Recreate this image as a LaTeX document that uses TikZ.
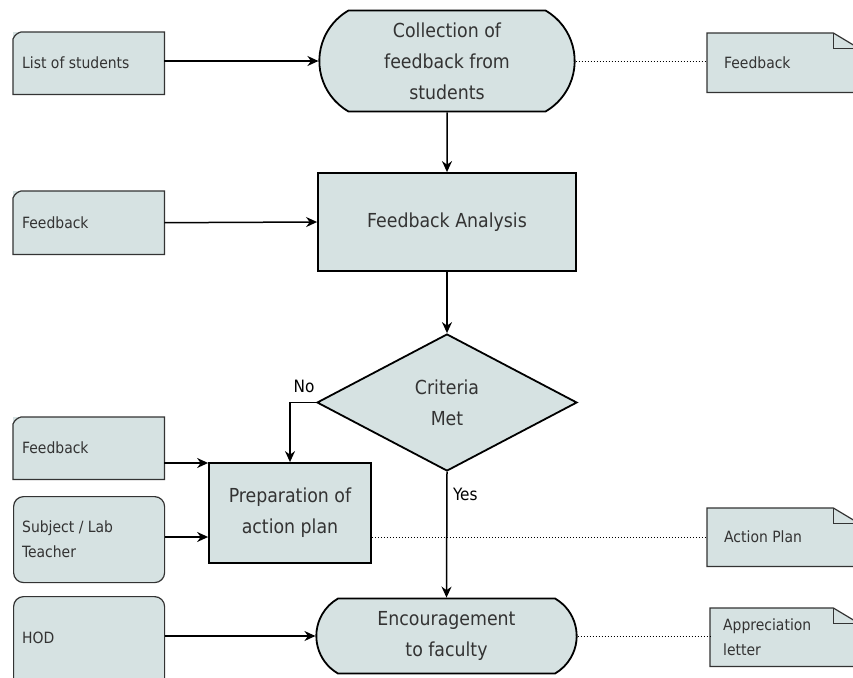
\documentclass[tikz,border=0pt]{standalone}
\usepackage{fontspec}
\setmainfont{DejaVu Sans Condensed}
\usetikzlibrary{shapes.geometric,shapes.misc,arrows.meta}
\definecolor{boxfill}{HTML}{D6E2E2}
\definecolor{txt}{HTML}{333333}
\tikzset{
  main/.style={draw=black, line width=1.8pt, fill=boxfill, text=txt, font=\fontsize{19.3}{31}\selectfont, align=center},
  proc/.style={main, rectangle},
  term/.style={main, rounded rectangle, rounded rectangle arc length=120},
  dec/.style={main, diamond},
  side/.style={fill=boxfill, draw=none, text=txt, font=\fontsize{15.5}{25}\selectfont, align=left, anchor=north west, inner sep=0pt},
  sideline/.style={draw=black!80, line width=1.2pt},
  flow/.style={line width=1.5pt, -{Stealth[length=11pt,width=10pt]}},
  link/.style={line width=1pt, dotted},
  lbl/.style={text=black, font=\fontsize{17}{20}\selectfont}
}
\begin{document}
\begin{tikzpicture}[x=1pt,y=-1pt]
\useasboundingbox (0,0) rectangle (853,677);
\clip (0,0) rectangle (853,677);
% main flow
\node[term, minimum width=262pt, minimum height=101pt] (coll) at (447,61) {Collection of\\feedback from\\students};
\node[proc, minimum width=258pt, minimum height=98pt] (anal) at (447,222) {Feedback Analysis};
\node[dec, minimum width=260pt, minimum height=137pt] (crit) at (447,402.5) {Criteria\\Met};
\node[proc, minimum width=162pt, minimum height=100pt] (prep) at (290,513) {Preparation of\\action plan};
\node[term, minimum width=267pt, minimum height=75pt] (enc) at (446.5,636) {Encouragement\\to faculty};
% left side inputs
\node[side, minimum width=151pt, minimum height=62pt] (lst) at (13,32) {};
\node[side, minimum width=151pt, minimum height=63pt] (fb1) at (13,191) {};
\node[side, minimum width=151pt, minimum height=62pt] (fb2) at (13,417) {};
\node[side, draw=black!80, line width=1.2pt, rounded corners=10pt, minimum width=151pt, minimum height=86pt] (subj) at (13,496) {};
\node[side, draw=black!80, line width=1.2pt, rounded corners=10pt, minimum width=151pt, minimum height=95pt] (hod) at (13,596) {};
\foreach \n in {lst,fb1,fb2}{
  \draw[sideline] ([yshift=-7pt]\n.north west) to[bend left=25] ([xshift=8pt]\n.north west) -- (\n.north east) -- (\n.south east) -- (\n.south west) -- cycle;
}
\node[side, anchor=west] (lstT) at ([xshift=9pt]lst.west) {List of students};
\node[side, anchor=west] (fb1T) at ([xshift=9pt]fb1.west) {Feedback};
\node[side, anchor=west] (fb2T) at ([xshift=9pt]fb2.west) {Feedback};
\node[side, anchor=west] (subjT) at ([xshift=9pt]subj.west) {Subject / Lab\\Teacher};
\node[side, anchor=west] (hodT) at ([xshift=9pt,yshift=6pt]hod.west) {HOD};
% right side outputs
\node[side, minimum width=151pt, minimum height=59pt] (fbo) at (707,33) {};
\node[side, minimum width=151pt, minimum height=58pt] (apo) at (707,508) {};
\node[side, minimum width=148pt, minimum height=58pt] (alo) at (710,608) {};
\foreach \n in {fbo,apo,alo}{
  \fill[white] ([xshift=-25pt]\n.north east) -- (\n.north east) -- ([yshift=-15pt]\n.north east) -- cycle;
  \draw[sideline] (\n.north west) -- ([xshift=-25pt]\n.north east) -- ([yshift=-15pt]\n.north east) -- (\n.south east) -- (\n.south west) -- cycle;
  \draw[sideline, line width=0.8pt] ([xshift=-25pt]\n.north east) |- ([yshift=-15pt]\n.north east);
}
\node[side, anchor=west] (fboT) at ([xshift=17pt]fbo.west) {Feedback};
\node[side, anchor=west] (apoT) at ([xshift=17pt]apo.west) {Action Plan};
\node[side, anchor=west] (aloT) at ([xshift=13pt]alo.west) {Appreciation\\letter};
% flow connectors
\draw[flow] (coll) -- (anal);
\draw[flow] (anal) -- (crit);
\draw[flow] (crit.west) -| (prep.north);
\node[lbl] (nolbl) at (304,386) {No};
\draw[flow] (crit.south) -- node[lbl, pos=0.18, right, xshift=2pt] {Yes} (enc.north);
\draw[flow] (lst.east |- coll.west) -- (coll.west);
\draw[flow] (fb1.east) -- (anal.west);
\draw[flow] (fb2.east |- 0,463) -- (prep.west |- 0,463);
\draw[flow] (subj.east |- 0,537) -- (prep.west |- 0,537);
\draw[flow] (hod.east |- enc.west) -- (enc.west);
% associations
\draw[link] (coll.east) -- (fbo.west |- coll.east);
\draw[link] (prep.east |- 0,537) -- (apo.west |- 0,537);
\draw[link] (enc.east) -- (alo.west |- enc.east);
\end{tikzpicture}
\end{document}
